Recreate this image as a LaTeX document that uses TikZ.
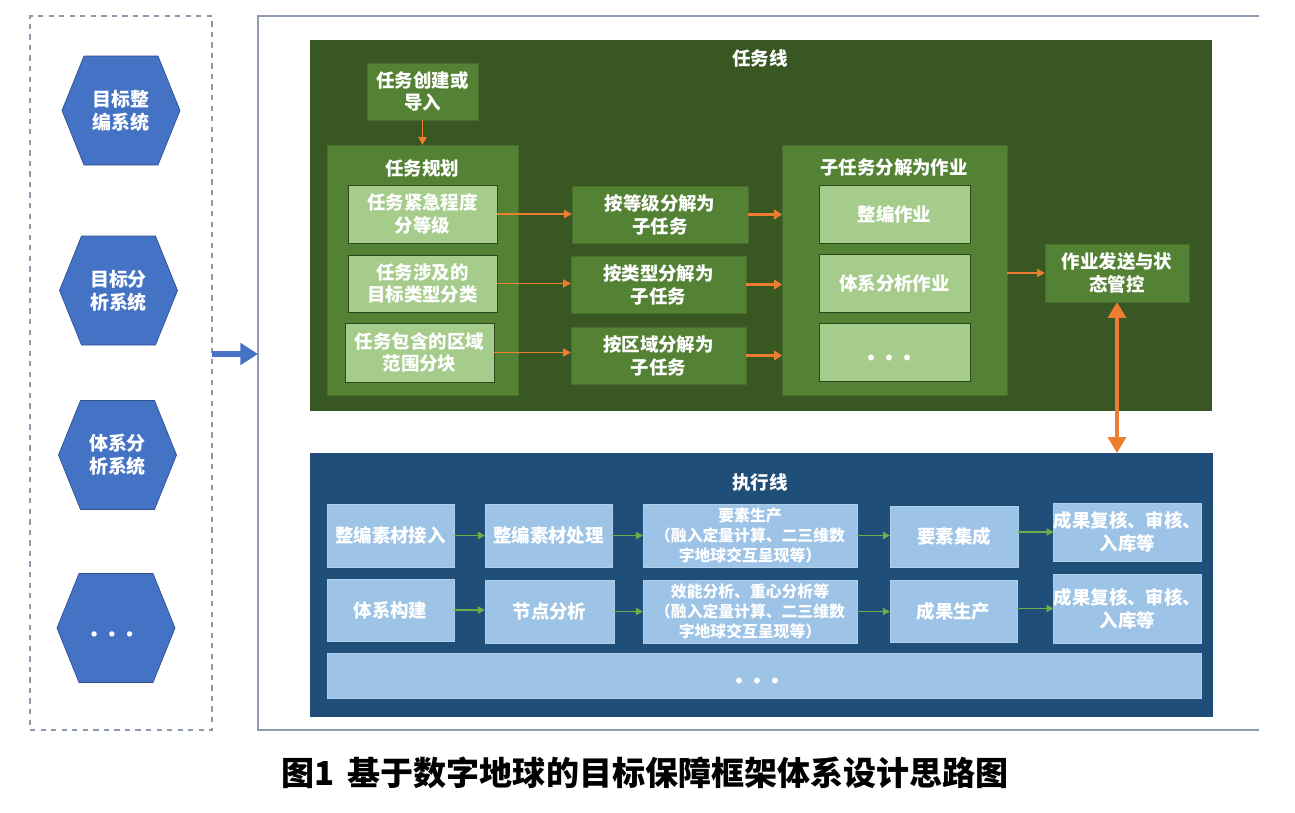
\documentclass[tikz,border=0pt]{standalone}
\usepackage{fontspec}
\setmainfont{Noto Sans CJK SC}
\usetikzlibrary{arrows.meta}
\definecolor{dkgreen}{HTML}{385723}
\definecolor{mdgreen}{HTML}{548235}
\definecolor{ltgreen}{HTML}{A6CC8C}
\definecolor{dkblue}{HTML}{1F4E79}
\definecolor{ltblue}{HTML}{9DC3E6}
\definecolor{hexblue}{HTML}{4472C4}
\definecolor{hexedge}{HTML}{2F528F}
\definecolor{orangeA}{HTML}{ED7D31}
\definecolor{greenA}{HTML}{70AD47}
\definecolor{frameC}{HTML}{8C9BB0}
\newcommand{\bxfont}{\fontsize{10.5}{13}\selectfont\bfseries}
\newcommand{\smfont}{\fontsize{9}{11.6}\selectfont\bfseries}
\newcommand{\dotrow}{$\bullet$\hspace{6pt}$\bullet$\hspace{6pt}$\bullet$}
\newcommand{\bxn}[7]{\node[#1, minimum width={(#4-(#2))*0.02cm}, minimum height={(#5-(#3))*0.02cm}] (#6) at ({(#2+#4)/2},{(#3+#5)/2}) {#7};}
\newcommand{\hexn}[4]{%
  \filldraw[fill=hexblue, draw=hexedge, line width=0.4pt] ({#1-59},{#2}) -- ({#1-37},{#2-54.5}) -- ({#1+37},{#2-54.5}) -- ({#1+59},{#2}) -- ({#1+37},{#2+54.5}) -- ({#1-37},{#2+54.5}) -- cycle;
  \node[hextext] (#3) at ({#1},{#2}) {#4};}
\begin{document}
\begin{tikzpicture}[x=0.02cm, y=-0.02cm,
  base/.style={rectangle, inner sep=0pt, outer sep=0pt, align=center, text=white, font=\bxfont},
  greenbg/.style={base, fill=dkgreen},
  mgbox/.style={base, fill=mdgreen, draw=mdgreen!85!black, line width=0.4pt},
  lgbox/.style={base, fill=ltgreen, draw=dkgreen!80!black, line width=0.5pt},
  bluebg/.style={base, fill=dkblue},
  lbbox/.style={base, fill=ltblue, draw=ltblue!80!white, line width=0.4pt},
  hextext/.style={align=center, text=white, font=\fontsize{10.8}{13}\selectfont\bfseries, inner sep=0pt},
  title/.style={text=white, font=\bxfont, inner sep=0pt},
  oarrthin/.style={draw=orangeA, line width=1.1pt, -{Triangle[length=4.5pt, width=4.5pt]}},
  oarrmid/.style={draw=orangeA, line width=1.6pt, -{Triangle[length=4.5pt, width=5.5pt]}},
  oarrbig/.style={draw=orangeA, line width=2.8pt, {Triangle[length=9pt, width=10pt]}-{Triangle[length=9pt, width=10pt]}},
  garr/.style={draw=greenA, line width=0.9pt, -{Triangle[length=4pt, width=4pt]}},
  barr/.style={draw=hexblue, line width=3.4pt, -{Triangle[length=10pt, width=12pt]}}
]
\useasboundingbox (0,0) rectangle (1295,812);

% left panel
\bxn{draw=frameC, dashed, line width=0.6pt, rectangle, inner sep=0pt, outer sep=0pt}{30}{16}{212}{730}{sysbox}{}
\hexn{121}{110.5}{h1}{目标整\\编系统}
\hexn{118.5}{290.5}{h2}{目标分\\析系统}
\hexn{117.5}{455}{h3}{体系分\\析系统}
\hexn{116}{628}{h4}{}
\node[text=white, inner sep=0pt, font=\fontsize{7}{7}\selectfont] (h4dots) at (112,635) {\dotrow};

% outer frame
\coordinate (frTR) at (1259,16);
\coordinate (frTL) at (258,16);
\coordinate (frBL) at (258,730);
\coordinate (frBR) at (1259,730);
\draw[frameC, line width=0.9pt] (frTR) -- (frTL) -- (frBL) -- (frBR);
\coordinate (ba1) at (212,354);
\coordinate (ba2) at (258,354);
\draw[barr] (ba1) -- (ba2);

% task line
\bxn{greenbg}{310}{40}{1212}{411}{taskbg}{}
\node[title] (tasktitle) at (760,58) {任务线};
\bxn{mgbox}{367}{63}{478}{120}{create}{任务创建或\\导入}
\bxn{mgbox}{327}{145}{518}{395}{plan}{}
\node[title] (plantitle) at (422,168) {任务规划};
\bxn{lgbox}{348}{185}{497}{243}{l1}{任务紧急程度\\分等级}
\bxn{lgbox}{348}{255}{497}{312}{l2}{任务涉及的\\目标类型分类}
\bxn{lgbox}{345}{323}{494}{382}{l3}{任务包含的区域\\范围分块}
\bxn{mgbox}{572}{186}{748}{243}{m1}{按等级分解为\\子任务}
\bxn{mgbox}{571}{256}{746}{313}{m2}{按类型分解为\\子任务}
\bxn{mgbox}{571}{327}{746}{384}{m3}{按区域分解为\\子任务}
\bxn{mgbox}{782}{145}{1007}{395}{sub}{}
\node[title] (subtitle) at (894,168) {子任务分解为作业};
\bxn{lgbox}{819}{185}{970}{243}{s1}{整编作业}
\bxn{lgbox}{819}{254}{970}{312}{s2}{体系分析作业}
\bxn{lgbox}{819}{323}{970}{381}{s3}{}
\node[text=white, inner sep=0pt, font=\fontsize{8}{8}\selectfont] (s3dots) at (889,358) {\dotrow};
\bxn{mgbox}{1045}{244}{1189}{302}{send}{作业发送与状\\态管控}

\draw[oarrthin] (create.south) -- (plan.north);
\draw[oarrthin] (l1.east) -- (l1.east -| m1.west);
\draw[oarrthin] (l2.east) -- (l2.east -| m2.west);
\draw[oarrthin] (l3.east) -- (l3.east -| m3.west);
\draw[oarrmid] (m1.east) -- (m1.east -| sub.west);
\draw[oarrmid] (m2.east) -- (m2.east -| sub.west);
\draw[oarrmid] (m3.east) -- (m3.east -| sub.west);
\draw[oarrthin] (send.west -| sub.east) -- (send.west);

% execution line
\bxn{bluebg}{310}{453}{1213}{717}{execbg}{}
\node[title] (exectitle) at (760,483) {执行线};
\draw[oarrbig] (send.south) -- (send.south |- execbg.north);

\bxn{lbbox}{327}{504}{454}{567}{r11}{整编素材接入}
\bxn{lbbox}{485}{504}{612}{567}{r12}{整编素材处理}
\bxn{lbbox, font=\smfont}{643}{504}{857}{567}{r13}{要素生产\\（融入定量计算、二三维数\\字地球交互呈现等）}
\bxn{lbbox}{890}{506}{1018}{567}{r14}{要素集成}
\bxn{lbbox}{1054}{503}{1201}{561}{r15}{成果复核、审核、\\入库等}
\bxn{lbbox}{327}{579}{454}{641}{r21}{体系构建}
\bxn{lbbox}{485}{580}{614}{643}{r22}{节点分析}
\bxn{lbbox, font=\smfont}{643}{580}{857}{643}{r23}{效能分析、重心分析等\\（融入定量计算、二三维数\\字地球交互呈现等）}
\bxn{lbbox}{890}{580}{1017}{642}{r24}{成果生产}
\bxn{lbbox}{1054}{574}{1201}{643}{r25}{成果复核、审核、\\入库等}
\bxn{lbbox}{327}{653}{1201}{698}{r3}{}
\node[text=white, inner sep=0pt, font=\fontsize{8}{8}\selectfont] (r3dots) at (757,681) {\dotrow};

\draw[garr] (r11.east) -- (r11.east -| r12.west);
\draw[garr] (r12.east) -- (r12.east -| r13.west);
\draw[garr] (r13.east) -- (r13.east -| r14.west);
\draw[garr] (r15.west -| r14.east) -- (r15.west);
\draw[garr] (r21.east) -- (r21.east -| r22.west);
\draw[garr] (r22.east) -- (r22.east -| r23.west);
\draw[garr] (r23.east) -- (r23.east -| r24.west);
\draw[garr] (r25.west -| r24.east) -- (r25.west);

% caption
\node[inner sep=0pt, font=\fontsize{18.8}{21}\selectfont\bfseries, text=black] (caption) at (645,773) {图1\hspace{0.4em}基于数字地球的目标保障框架体系设计思路图};
\end{tikzpicture}
\end{document}
